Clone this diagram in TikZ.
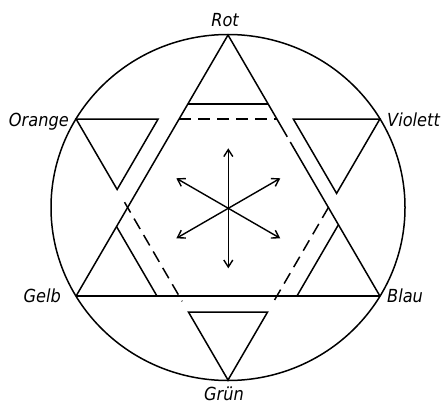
\documentclass[tikz,border=0pt]{standalone}
\usepackage{fontspec}
\newfontfamily\labfont{DejaVu Sans Condensed}
\usetikzlibrary{calc,arrows.meta}
\begin{document}
\begin{tikzpicture}[x=1pt,y=1pt,
  ln/.style={line width=1.5pt, line join=miter},
  dsh/.style={line width=1.5pt, dash pattern=on 12pt off 7pt},
  arr/.style={line width=1.4pt, -{Straight Barb[length=7pt,width=9pt]}},
  lab/.style={inner sep=0pt, font=\labfont\itshape\fontsize{18}{18}\selectfont}]
\useasboundingbox (0,0) rectangle (443,405);
\begin{scope}[shift={(228,197.5)}, x=176.6pt, y=172.5pt]
  % outer points
  \coordinate (R)  at (0,1);
  \coordinate (G)  at (0,-1);
  \coordinate (O)  at (-0.86,0.513);
  \coordinate (V)  at (0.86,0.513);
  \coordinate (Ge) at (-0.86,-0.513);
  \coordinate (B)  at (0.86,-0.513);
  % circle
  \draw[ln] (0,0) ellipse [x radius=177pt, y radius=173pt];
  % hexagon vertices
  \coordinate (H1) at (intersection of O--V and R--Ge);
  \coordinate (H2) at (intersection of O--V and R--B);
  \coordinate (H3) at (intersection of R--Ge and O--G);
  \coordinate (H4) at (intersection of R--B and V--G);
  \coordinate (H5) at (intersection of Ge--B and O--G);
  \coordinate (H6) at (intersection of Ge--B and V--G);
  % big upward triangle
  \coordinate (Rb1) at ($(R)!0.39!(B)$);
  \coordinate (Rb2) at ($(R)!0.41!(B)$);
  \draw[ln] (R) -- (Ge);
  \draw[ln] (R) -- (Rb1);
  \draw[ln] (Rb2) -- (B);
  \draw[ln] (Ge) -- (B);
  % Rot base
  \coordinate (R1) at ($(R)!0.264!(Ge)$);
  \coordinate (R2) at ($(R)!0.264!(B)$);
  \draw[ln] (R1) -- (R2);
  % Orange triangle
  \coordinate (O1) at ($(O)!0.27!(V)$);
  \coordinate (O1p) at ($(O1)+(Ge)-(R)$);
  \coordinate (O2) at (intersection of O--G and O1--O1p);
  \draw[ln] (O) -- (O1) -- (O2) -- cycle;
  % Violett triangle
  \coordinate (V1) at ($(V)!0.285!(O)$);
  \coordinate (V1p) at ($(V1)+(B)-(R)$);
  \coordinate (V2) at (intersection of V--G and V1--V1p);
  \draw[ln] (V) -- (V1) -- (V2) -- cycle;
  % Gruen triangle
  \coordinate (G1) at ($(G)!0.26!(O)$);
  \coordinate (G2) at ($(G)!0.26!(V)$);
  \draw[ln] (G1) -- (G2) -- (G) -- cycle;
  % Gelb inner side
  \coordinate (Ge1) at ($(Ge)!0.266!(B)$);
  \coordinate (Ge1p) at ($(Ge1)+(O)-(G)$);
  \coordinate (Ge2) at (intersection of Ge--R and Ge1--Ge1p);
  \draw[ln] (Ge1) -- (Ge2);
  % Blau inner side
  \coordinate (B1) at ($(B)!0.273!(Ge)$);
  \coordinate (B1p) at ($(B1)+(V)-(G)$);
  \coordinate (B2) at (intersection of B--R and B1--B1p);
  \draw[ln] (B1) -- (B2);
  % dashed hexagon edges
  \coordinate (D1) at ($(H3)!-0.06!(H5)$);
  \coordinate (D2) at ($(H5)!-0.06!(H3)$);
  \coordinate (D3) at ($(H6)!-0.06!(H4)$);
  \draw[dsh] (H1) -- (H2);
  \draw[dsh] (D1) -- (D2);
  \draw[dsh] (H4) -- (D3);
\end{scope}
% arrows
\coordinate (c) at (228.3,196.7);
\foreach \a/\n in {90/up,270/dn,30/ur,150/ul,210/dl,330/dr}{
  \coordinate (a\n) at ($(c)+(\a:60)$);
  \draw[arr] (c) -- (a\n);
}
% labels
\node[lab, anchor=base] (lrot) at (225,378) {Rot};
\node[lab, anchor=base east] (lorange) at (69,278.5) {Orange};
\node[lab, anchor=base west] (lviolett) at (387,279) {Violett};
\node[lab, anchor=base east] (lgelb) at (61,103) {Gelb};
\node[lab, anchor=base west] (lblau) at (387,103) {Blau};
\node[lab, anchor=base] (lgruen) at (224,5) {Grün};
\end{tikzpicture}
\end{document}
